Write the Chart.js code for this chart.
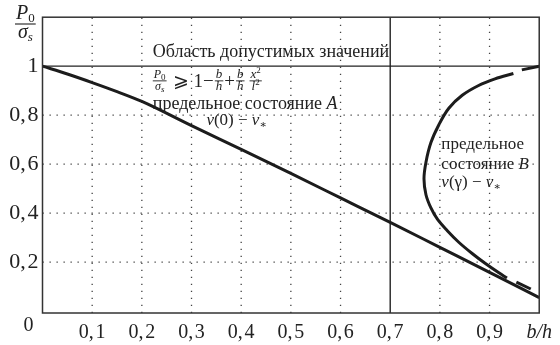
<!DOCTYPE html>
<html>
<head>
<meta charset="utf-8">
<script src="https://cdn.jsdelivr.net/npm/chart.js@4.4.1/dist/chart.umd.min.js"></script>
<style>
  html, body { margin: 0; padding: 0; background: #fff; }
  #caixa { width: 560px; height: 345px; }
</style>
</head>
<body>
<div id="caixa"><canvas id="grafico"></canvas></div>
<script>
// Marcas dos eixos (b/h e P0/σs)
const ticksX = [0.1, 0.2, 0.3, 0.4, 0.5, 0.6, 0.7, 0.8, 0.9, 1.0];
const ticksY = [0.2, 0.4, 0.6, 0.8, 1.0];

// Linhas de grade: pontilhadas e cheias
const gradeX = [0.1, 0.2, 0.3, 0.4, 0.5, 0.6, 0.8, 0.9];
const gradeY = [0.2, 0.4, 0.6, 0.8];
const linhaX = [0.7];
const linhaY = [1.0];

// Estado limite A
const curvaAx = [0, 0.05, 0.1, 0.15, 0.2, 0.3, 0.4, 0.5, 0.6, 0.7, 0.8, 0.9, 1.0];
const curvaAy = [1, 0.968, 0.933, 0.896, 0.856, 0.757, 0.66, 0.562, 0.462, 0.362, 0.26, 0.158, 0.055];

// Estado limite B (parte cheia, de cima para baixo)
const curvaBx = [0.948, 0.911, 0.878, 0.845, 0.818, 0.798, 0.782, 0.772, 0.768, 0.772, 0.782, 0.795, 0.815, 0.838, 0.865, 0.891, 0.918, 0.935];
const curvaBy = [0.970, 0.948, 0.921, 0.881, 0.828, 0.761, 0.688, 0.608, 0.54, 0.475, 0.421, 0.375, 0.328, 0.281, 0.235, 0.195, 0.157, 0.135];

// Trechos tracejados da curva B
const tracoTopoX = [0.965, 1.0];
const tracoTopoY = [0.985, 1.0];
const tracoBaseX = [0.954, 0.983];
const tracoBaseY = [0.118, 0.09];

const SERIF = "'Liberation Serif', 'DejaVu Serif', serif";
const COR = '#1c1c1c';

function pontos(xs, ys) {
    return xs.map((v, i) => ({ x: v, y: ys[i] }));
}

// Desenha uma sequência de pedaços de texto (normal, itálico, índice)
function escrever(ctx, partes, x, y) {
    let cx = x;
    partes.forEach(p => {
        ctx.font = (p.it ? 'italic ' : '') + p.s + 'px ' + SERIF;
        ctx.fillText(p.t, cx, y + (p.dy || 0));
        cx += ctx.measureText(p.t).width + (p.gap || 0);
    });
    return cx - x;
}

function largura(ctx, partes) {
    let w = 0;
    partes.forEach(p => {
        ctx.font = (p.it ? 'italic ' : '') + p.s + 'px ' + SERIF;
        w += ctx.measureText(p.t).width + (p.gap || 0);
    });
    return w;
}

// Fração: numerador, traço e denominador centrados em x
function fracao(ctx, num, den, x, yTraco, sep, baixo, espessura) {
    const w = Math.max(largura(ctx, num), largura(ctx, den)) + 2;
    escrever(ctx, num, x + (w - largura(ctx, num)) / 2, yTraco - sep);
    escrever(ctx, den, x + (w - largura(ctx, den)) / 2, yTraco + baixo);
    ctx.fillRect(x, yTraco - espessura / 2, w, espessura);
    return w;
}

const gradePlugin = {
    id: 'grade',
    beforeDatasetsDraw(chart) {
        const { ctx, chartArea: a, scales: { x, y } } = chart;
        ctx.save();
        ctx.strokeStyle = '#444';
        ctx.lineWidth = 1.3;
        ctx.setLineDash([1.3, 5.7]);
        gradeX.forEach(v => {
            const px = x.getPixelForValue(v);
            ctx.beginPath(); ctx.moveTo(px, a.bottom); ctx.lineTo(px, a.top); ctx.stroke();
        });
        gradeY.forEach(v => {
            const py = y.getPixelForValue(v);
            ctx.beginPath(); ctx.moveTo(a.left, py); ctx.lineTo(a.right, py); ctx.stroke();
        });
        ctx.setLineDash([]);
        ctx.strokeStyle = '#222';
        ctx.lineWidth = 1.4;
        linhaX.forEach(v => {
            const px = x.getPixelForValue(v);
            ctx.beginPath(); ctx.moveTo(px, a.bottom); ctx.lineTo(px, a.top); ctx.stroke();
        });
        linhaY.forEach(v => {
            const py = y.getPixelForValue(v);
            ctx.beginPath(); ctx.moveTo(a.left, py); ctx.lineTo(a.right, py); ctx.stroke();
        });
        ctx.restore();
    },
    afterDatasetsDraw(chart) {
        const { ctx, chartArea: a, scales: { x, y } } = chart;
        ctx.save();
        // moldura
        ctx.strokeStyle = '#333';
        ctx.lineWidth = 1.5;
        ctx.strokeRect(a.left, a.top, a.right - a.left, a.bottom - a.top);

        ctx.fillStyle = '#222';
        ctx.textBaseline = 'alphabetic';
        ctx.textAlign = 'left';

        // Texto da região admissível
        escrever(ctx, [{ t: 'Область допустимых значений', s: 18 }], x.getPixelForValue(0.222), y.getPixelForValue(1.036));

        // Desigualdade
        let fx = x.getPixelForValue(0.222);
        const fy = y.getPixelForValue(0.94);
        fx += fracao(ctx, [{ t: 'P', s: 12, it: true }, { t: '0', s: 9, dy: 2 }],
            [{ t: 'σ', s: 12, it: true }, { t: 's', s: 9, it: true, dy: 2 }], fx, fy, 3, 9, 0.9) + 6;
        fx += escrever(ctx, [{ t: '⩾', s: 19, gap: 5 }, { t: '1−', s: 19, gap: 1 }], fx, fy + 6);
        fx += fracao(ctx, [{ t: 'b', s: 13, it: true }], [{ t: 'h', s: 13, it: true }], fx, fy, 3, 9, 0.9) + 1;
        fx += escrever(ctx, [{ t: '+', s: 19, gap: 1 }], fx, fy + 6);
        fx += fracao(ctx, [{ t: 'b', s: 13, it: true }], [{ t: 'h', s: 13, it: true }], fx, fy, 3, 9, 0.9) + 5;
        fracao(ctx, [{ t: 'x', s: 13, it: true }, { t: '2', s: 9, dy: -5 }],
            [{ t: 'l', s: 13, it: true }, { t: '2', s: 9, dy: -5 }], fx, fy, 3, 9, 0.9);

        // Estado limite A
        escrever(ctx, [{ t: 'предельное состояние ', s: 18 }, { t: 'A', s: 18, it: true }],
            x.getPixelForValue(0.222), y.getPixelForValue(0.826));
        escrever(ctx, [{ t: 'v', s: 17, it: true }, { t: '(0) − ', s: 17 }, { t: 'v', s: 17, it: true }, { t: '∗', s: 11, dy: 3 }],
            x.getPixelForValue(0.33), y.getPixelForValue(0.76));

        // Estado limite B
        escrever(ctx, [{ t: 'предельное', s: 17 }], x.getPixelForValue(0.803), y.getPixelForValue(0.66));
        escrever(ctx, [{ t: 'состояние ', s: 17 }, { t: 'B', s: 17, it: true }], x.getPixelForValue(0.803), y.getPixelForValue(0.58));
        escrever(ctx, [{ t: 'v', s: 17, it: true }, { t: '(γ) − ', s: 17 }, { t: 'v', s: 17, it: true }, { t: '∗', s: 11, dy: 3 }],
            x.getPixelForValue(0.803), y.getPixelForValue(0.507));

        // Título do eixo y: P0 / σs
        fracao(ctx, [{ t: 'P', s: 20, it: true }, { t: '0', s: 13, dy: 3 }],
            [{ t: 'σ', s: 20, it: true }, { t: 's', s: 13, it: true, dy: 3 }], 15, 24, 5, 14, 1.1);

        // Origem
        ctx.font = '20px ' + SERIF;
        ctx.textAlign = 'center';
        ctx.fillText('0', a.left - 14, y.getPixelForValue(0) + 20);
        ctx.restore();
    }
};

const linha = (dados, extra) => Object.assign({
    data: dados,
    showLine: true,
    borderColor: COR,
    borderWidth: 3,
    pointRadius: 0,
    tension: 0.35
}, extra || {});

new Chart(document.getElementById('grafico'), {
    type: 'scatter',
    data: {
        datasets: [
            linha(pontos(curvaAx, curvaAy), { cubicInterpolationMode: 'monotone' }),
            linha(pontos(curvaBx, curvaBy)),
            linha(pontos(tracoTopoX, tracoTopoY), { tension: 0 }),
            linha(pontos(tracoBaseX, tracoBaseY), { tension: 0 })
        ]
    },
    options: {
        responsive: true,
        maintainAspectRatio: false,
        animation: false,
        layout: { padding: { top: 12, right: 16, left: 0, bottom: 0 } },
        plugins: { legend: { display: false }, tooltip: { enabled: false } },
        scales: {
            x: {
                type: 'linear', min: 0, max: 1,
                afterFit: s => { s.height = 32; },
                afterBuildTicks: s => { s.ticks = ticksX.map(v => ({ value: v })); },
                grid: { display: false, drawTicks: false },
                border: { display: false },
                ticks: {
                    autoSkip: false, maxRotation: 0, padding: 8, color: '#222',
                    font: c => (c.tick && c.tick.value === 1)
                        ? { family: SERIF, size: 20, style: 'italic' }
                        : { family: SERIF, size: 20 },
                    callback: v => v === 1 ? 'b/h' : String(v).replace('.', ',\u200A')
                }
            },
            y: {
                type: 'linear', min: -0.008, max: 1.2,
                afterFit: s => { s.width = 42.5; },
                afterBuildTicks: s => { s.ticks = ticksY.map(v => ({ value: v })); },
                grid: { display: false, drawTicks: false },
                border: { display: false },
                ticks: {
                    autoSkip: false, padding: 4, color: '#222',
                    font: { family: SERIF, size: 22 },
                    callback: v => v === 1 ? '1' : String(v).replace('.', ',\u200A')
                }
            }
        }
    },
    plugins: [gradePlugin]
});
</script>
</body>
</html>
